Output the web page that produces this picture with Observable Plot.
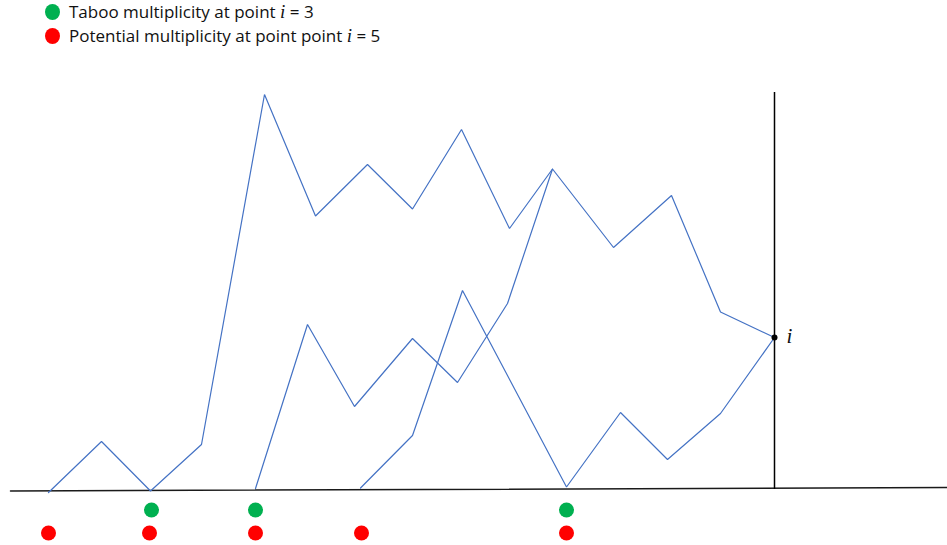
<!DOCTYPE html>
<html>
<head>
<meta charset="utf-8">
<script src="https://cdn.jsdelivr.net/npm/d3@7"></script>
<script src="https://cdn.jsdelivr.net/npm/@observablehq/plot@0.6"></script>
<style>
  html, body { margin: 0; padding: 0; background: #fff; }
  #wrap { position: relative; width: 947px; height: 545px; }
  #legend { position: absolute; left: 45px; top: 0px; font-family: "Open Sans", Lato, sans-serif; font-size: 17px; color: #111; line-height: 24px; }
  #legend .row { display: flex; align-items: center; height: 24px; }
  #legend .sw { width: 15px; height: 16px; border-radius: 50%; margin-right: 9px; }
  #legend i { font-family: "Liberation Serif", serif; font-style: italic; font-size: 19px; }
</style>
</head>
<body>
<div id="wrap">
  <div id="chart"></div>
  <div id="legend">
    <div class="row"><span class="sw" style="background:#00B050"></span><span>Taboo multiplicity at point <i>i</i> = 3</span></div>
    <div class="row"><span class="sw" style="background:#FF0000"></span><span>Potential multiplicity at point point <i>i</i> = 5</span></div>
  </div>
</div>
<script>
// Path A (long path starting at far left)
const pathAx = [48, 101, 150, 201, 264, 315, 367, 412, 461, 509, 552, 613, 671, 720, 774];
const pathAy = [-3, 48, -1.5, 45, 395, 273.5, 325, 280.5, 360, 261, 320.5, 242, 294, 177.5, 152];
// Path B (joins path A at its peak)
const pathBx = [255, 307, 354, 412, 457, 507, 552];
const pathBy = [1, 165, 83, 151, 107, 186, 320.5];
// Path C
const pathCx = [360, 412, 462, 566, 620, 667, 720, 774];
const pathCy = [1.5, 54, 199, 2.5, 77, 30, 76, 152];

// Multiplicity markers
const tabooX = [151, 255, 566];
const potentialX = [48, 149, 255, 361, 566];
const tabooRow = -20.5;
const potentialRow = -43.5;

// Point i
const pointIx = 774;
const pointIy = 152;
const verticalTop = 397;
const baselineX = [10, 947];
const baselineY = [-1.5, 2];

const toPts = (xs, ys, id) => xs.map((x, k) => ({x, y: ys[k], id}));
const paths = [...toPts(pathAx, pathAy, "A"), ...toPts(pathBx, pathBy, "B"), ...toPts(pathCx, pathCy, "C")];
const baseline = toPts(baselineX, baselineY, "base");

const chart = Plot.plot({
  width: 947,
  height: 545,
  margin: 0,
  x: {domain: [0, 947], range: [0, 947], axis: null},
  y: {domain: [-56, 489], range: [545, 0], axis: null},
  marks: [
    Plot.line(baseline, {x: "x", y: "y", stroke: "#1a1a1a", strokeWidth: 1.5}),
    Plot.ruleX([pointIx], {y1: 0, y2: verticalTop, stroke: "#000", strokeWidth: 1.5}),
    Plot.line(paths, {x: "x", y: "y", z: "id", stroke: "#4472C4", strokeWidth: 1.2, strokeLinejoin: "miter"}),
    Plot.dot([{x: pointIx, y: pointIy}], {x: "x", y: "y", r: 3, fill: "#000"}),
    Plot.text([{x: pointIx, y: pointIy}], {x: "x", y: "y", text: () => "i", dx: 12, dy: -1, textAnchor: "start", fontFamily: "Liberation Serif", fontStyle: "italic", fontSize: 21, fill: "#111"}),
    Plot.dot(tabooX, {x: d => d, y: () => tabooRow, r: 7.5, fill: "#00B050"}),
    Plot.dot(potentialX, {x: d => d, y: () => potentialRow, r: 7.5, fill: "#FF0000"})
  ]
});
document.getElementById("chart").appendChild(chart);
</script>
</body>
</html>
